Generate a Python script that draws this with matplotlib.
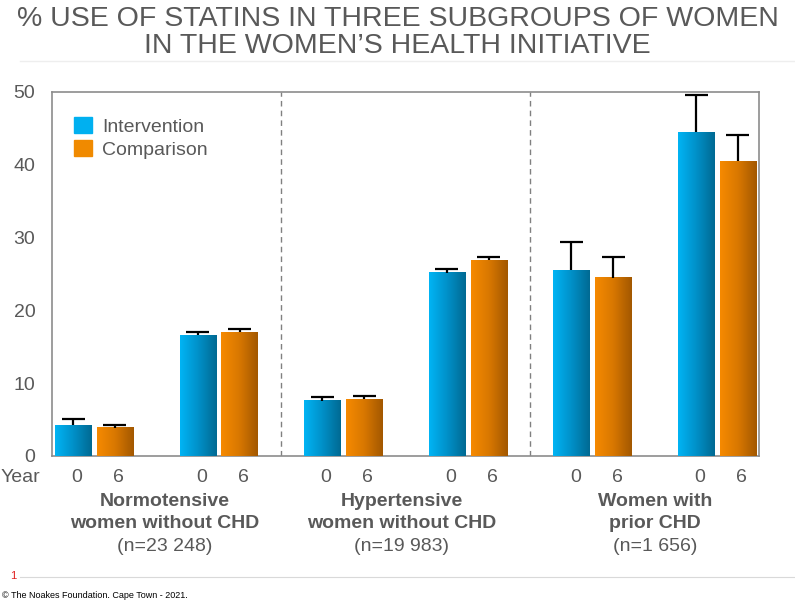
# Statin use in three subgroups of women (WHI) - grouped bars with gradient fill

import numpy as np
import matplotlib.pyplot as plt
from matplotlib.colors import LinearSegmentedColormap
from matplotlib.patches import Patch

plt.rcParams["font.family"] = ["Liberation Sans", "DejaVu Sans"]

# Data
year_labels = ["0", "6"]
intervention = [4.2, 16.6, 7.6, 25.2, 25.5, 44.5]
intervention_err = [0.9, 0.5, 0.45, 0.5, 3.85, 5.1]
comparison = [3.9, 17.0, 7.8, 26.9, 24.5, 40.5]
comparison_err = [0.35, 0.45, 0.5, 0.5, 2.85, 3.6]
group_labels = [
    ["Normotensive", "women without CHD"],
    ["Hypertensive", "women without CHD"],
    ["Women with", "prior CHD"],
]
group_n = ["(n=23 248)", "(n=19 983)", "(n=1 656)"]

GREY = "#595959"
blue_cmap = LinearSegmentedColormap.from_list("blue", ["#00B4F4", "#0090C8", "#006A93"])
orange_cmap = LinearSegmentedColormap.from_list("orange", ["#F68A00", "#D87700", "#A35800"])

fig = plt.figure(figsize=(7.95, 6.01), dpi=100)
ax = fig.add_axes([52 / 795, 1 - 456 / 601, 707 / 795, 364 / 601])

x = np.arange(len(intervention))
width = 0.29
off = 0.168
cap = 0.092


def gradient_bars(xpos, vals, errs, cmap, base):
    bars = ax.bar(xpos, vals, width, color=base, zorder=2)
    grad = np.linspace(0, 1, 64).reshape(1, -1)
    for b in bars:
        x0, y0 = b.get_x(), b.get_y()
        ax.imshow(grad, extent=[x0, x0 + b.get_width(), y0, y0 + b.get_height()],
                  aspect="auto", cmap=cmap, zorder=3, interpolation="bicubic")
    # upper error bars only
    tops = np.array(vals) + np.array(errs)
    ax.vlines(xpos, vals, tops, color="black", linewidth=1.6, zorder=4)
    ax.hlines(tops, xpos - cap, xpos + cap, color="black", linewidth=1.6, zorder=4)


gradient_bars(x - off, intervention, intervention_err, blue_cmap, "#00B0F0")
gradient_bars(x + off, comparison, comparison_err, orange_cmap, "#F08A00")

# group separators
for sep in [1.5, 3.5]:
    ax.axvline(sep, color="#808080", linestyle=(0, (4, 3)), linewidth=1, zorder=1)

ax.set_xlim(-0.337, len(x) - 1 + 0.337)
ax.set_ylim(0, 50)
ax.set_yticks([0, 10, 20, 30, 40, 50])
ax.tick_params(axis="y", length=0, pad=12, labelsize=14, labelcolor=GREY)
ax.set_xticks([])
for s in ax.spines.values():
    s.set_color("#8C8C8C")
    s.set_linewidth(1.2)

# legend
handles = [Patch(color="#00B0F0", label="Intervention"),
           Patch(color="#F08A00", label="Comparison")]
leg = ax.legend(handles=handles, loc="upper left", bbox_to_anchor=(0.031, 0.931),
                borderaxespad=0, borderpad=0, frameon=False, fontsize=14,
                handlelength=0.95, handleheight=0.85, handletextpad=0.5,
                labelspacing=0.25)
for t in leg.get_texts():
    t.set_color(GREY)

# year row
trans = ax.get_xaxis_transform()
shift = 0.03
for i in range(len(x)):
    ax.text(x[i] - off + shift, -0.06, year_labels[0], transform=trans,
            ha="center", va="center", fontsize=14, color=GREY)
    ax.text(x[i] + off + shift, -0.06, year_labels[1], transform=trans,
            ha="center", va="center", fontsize=14, color=GREY)
fig.text(1 / 795, 1 - 478 / 601, "Year", ha="left", va="center", fontsize=14, color=GREY)

# group labels
group_x = [0.565, 2.47, 4.5]
for gx, lab, n in zip(group_x, group_labels, group_n):
    ax.text(gx, -0.126, lab[0], transform=trans, ha="center", va="center",
            fontsize=14, fontweight="bold", color=GREY)
    ax.text(gx, -0.186, lab[1], transform=trans, ha="center", va="center",
            fontsize=14, fontweight="bold", color=GREY)
    ax.text(gx, -0.249, n, transform=trans, ha="center", va="center",
            fontsize=14, color=GREY)

# title
fig.text(0.5, 1 - 32.5 / 601,
         "% USE OF STATINS IN THREE SUBGROUPS OF WOMEN\nIN THE WOMEN\u2019S HEALTH INITIATIVE",
         ha="center", va="center", fontsize=20.5, color=GREY, linespacing=1.08)
fig.add_artist(plt.Line2D([20 / 795, 1.0], [1 - 61 / 601] * 2, color="#EEEEEE", linewidth=1))

# footer
fig.text(10 / 795, 1 - 576 / 601, "1", color="#E02020", fontsize=8, ha="left", va="center")
fig.add_artist(plt.Line2D([20 / 795, 1.0], [1 - 577 / 601] * 2, color="#D9D9D9", linewidth=0.8))
fig.text(2 / 795, 1 - 595 / 601, "\u00a9 The Noakes Foundation. Cape Town - 2021.",
         fontsize=6.5, color="black", ha="left", va="center")

fig.savefig("out.png", dpi=100)
